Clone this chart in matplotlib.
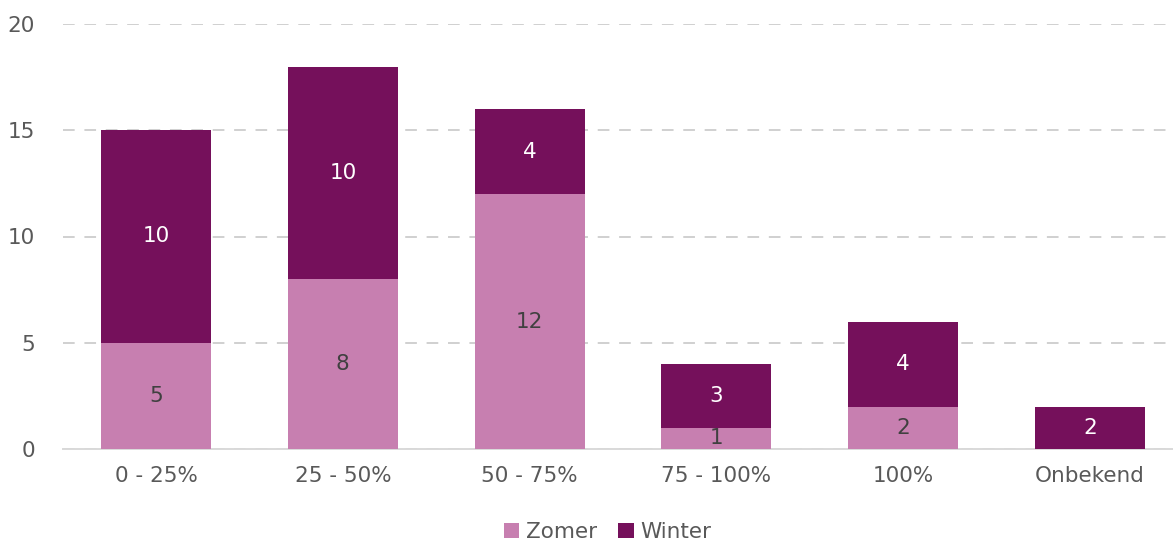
import matplotlib
matplotlib.use("Agg")
import matplotlib.pyplot as plt
import numpy as np

categories = ["0 - 25%", "25 - 50%", "50 - 75%", "75 - 100%", "100%", "Onbekend"]
zomer = [5, 8, 12, 1, 2, 0]
winter = [10, 10, 4, 3, 4, 2]

c_zomer = "#C77FB0"
c_winter = "#75105B"

plt.rcParams['font.family'] = ['DejaVu Sans']
fig = plt.figure(figsize=(11.73, 5.42), dpi=100)
ax = fig.add_axes([62.6/1173, 93/542, 1 - 62.6/1173, (449-24)/542])

x = np.arange(len(categories))
w = 0.589
b1 = ax.bar(x, zomer, w, color=c_zomer, label="Zomer", zorder=3)
b2 = ax.bar(x, winter, w, bottom=zomer, color=c_winter, label="Winter", zorder=3)

fs = 15.5
for i in range(len(categories)):
    if zomer[i] > 0:
        ax.text(x[i], zomer[i]/2, str(zomer[i]), ha='center', va='center',
                color="#404040", fontsize=fs, zorder=4)
    if winter[i] > 0:
        ax.text(x[i], zomer[i] + winter[i]/2, str(winter[i]), ha='center', va='center',
                color="white", fontsize=fs, zorder=4)

ax.set_xlim(-0.5, 5.444)
ax.set_ylim(0, 20)
ax.set_yticks([0, 5, 10, 15, 20])
ax.set_xticks(x)
ax.set_xticklabels(categories)
ax.tick_params(axis='both', length=0, labelsize=fs, labelcolor="#595959")
ax.tick_params(axis='x', pad=12)
ax.tick_params(axis='y', pad=20)
ax.yaxis.grid(True, color="#D0D0D0", linestyle=(0, (6, 5)), linewidth=1.4, zorder=0)
for s in ['top', 'right', 'left']:
    ax.spines[s].set_visible(False)
ax.spines['bottom'].set_color("#D9D9D9")
ax.spines['bottom'].set_linewidth(1.4)

leg = fig.legend(handles=[b1, b2], labels=["Zomer", "Winter"], loc='center',
                 bbox_to_anchor=(0.518, 1 - 532/542), ncol=2, frameon=False,
                 fontsize=fs, handlelength=0.7, handleheight=0.7, handletextpad=0.3,
                 columnspacing=1.0)
for t in leg.get_texts():
    t.set_color("#595959")

fig.savefig("out.png", dpi=100)
